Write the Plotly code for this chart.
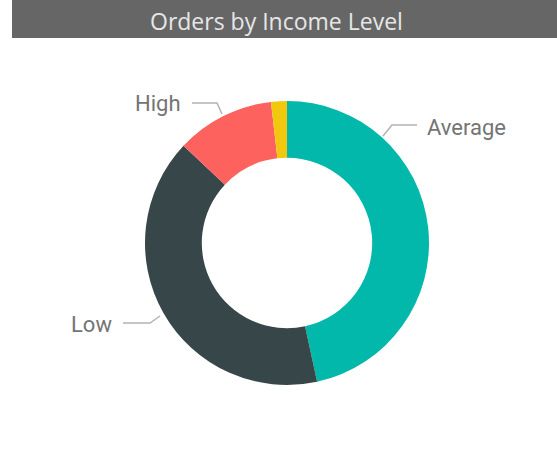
import math
import plotly.graph_objects as go

# Data
categories = ["Average", "Low", "High", "Very High"]
values = [46.6, 40.4, 11.2, 1.8]
colors = ["#01B8AA", "#374649", "#FD625E", "#F2C80F"]
title_text = "Orders by Income Level"

W, H = 557, 466
cx, cy, R = 287, 243, 142  # pie centre/radius in pixels


def px(x):
    return x / W


def py(y):
    return 1 - y / H


fig = go.Figure()
fig.add_trace(go.Pie(
    labels=categories,
    values=values,
    marker=dict(colors=colors, line=dict(width=0)),
    hole=0.6,
    sort=False,
    direction="clockwise",
    rotation=0,
    textinfo="none",
    hoverinfo="label+value+percent",
    showlegend=False,
    domain=dict(x=[px(cx - R), px(cx + R)], y=[py(cy + R), py(cy - R)]),
))

# Title bar
shapes = [dict(type="rect", xref="paper", yref="paper",
               x0=px(12), x1=px(557), y0=py(38), y1=py(0),
               fillcolor="#666666", line=dict(width=0), layer="below")]

annotations = [dict(text=title_text, xref="paper", yref="paper",
                    x=px(276), y=py(21), showarrow=False,
                    xanchor="center", yanchor="middle",
                    font=dict(family="Open Sans", size=23, color="#E6E6E6"))]

# Leader lines and labels (label positions only)
label_layout = {
    "Average": dict(path=[(383, 136), (392, 125), (417, 125)], text_x=425, text_y=127, anchor="left"),
    "High": dict(path=[(222, 114), (217, 103), (192, 103)], text_x=183, text_y=103, anchor="right"),
    "Low": dict(path=[(160, 316), (150, 323), (123, 323)], text_x=114, text_y=324, anchor="right"),
}
for name, lay in label_layout.items():
    pts = lay["path"]
    d = "M " + " L ".join(f"{px(x):.5f},{py(y):.5f}" for x, y in pts)
    shapes.append(dict(type="path", xref="paper", yref="paper", path=d,
                       line=dict(color="#B3B3B3", width=1.5)))
    annotations.append(dict(text=name, xref="paper", yref="paper",
                            x=px(lay["text_x"]), y=py(lay["text_y"]),
                            showarrow=False, xanchor=lay["anchor"], yanchor="middle",
                            font=dict(family="Roboto", size=22, color="#747474")))

fig.update_layout(
    width=W, height=H,
    margin=dict(l=0, r=0, t=0, b=0),
    paper_bgcolor="white", plot_bgcolor="white",
    shapes=shapes, annotations=annotations,
)

fig.write_html("out.html", config={"displayModeBar": False},
               post_script="document.body.style.margin='0';")
